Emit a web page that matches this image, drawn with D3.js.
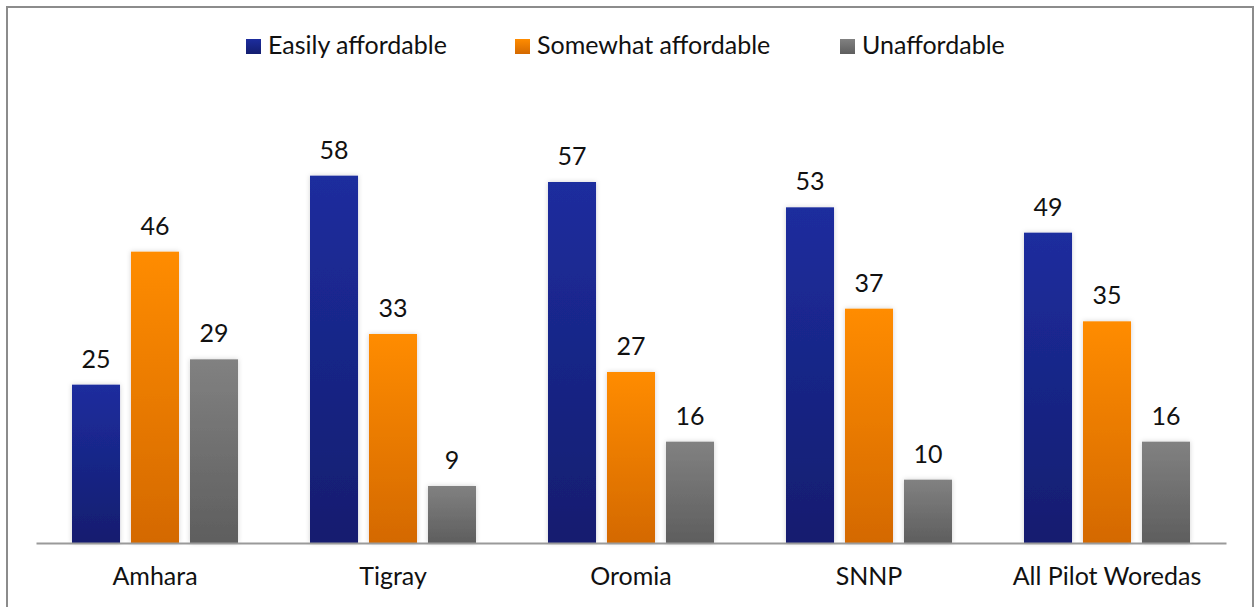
<!DOCTYPE html>
<html>
<head>
<meta charset="utf-8">
<script src="https://cdn.jsdelivr.net/npm/d3@7"></script>
<style>
  html, body { margin: 0; padding: 0; background: #fff; }
  svg text { font-family: Lato, "Open Sans", sans-serif; fill: #111; }
</style>
</head>
<body>
<div id="chart"></div>
<script>
const regions = ['Amhara', 'Tigray', 'Oromia', 'SNNP', 'All Pilot Woredas'];
const seriesNames = ['Easily affordable', 'Somewhat affordable', 'Unaffordable'];
const easily = [25, 58, 57, 53, 49];
const somewhat = [46, 33, 27, 37, 35];
const unaffordable = [29, 9, 16, 10, 16];

const W = 1255, H = 607;
const FS = 25;
const svg = d3.select('#chart').append('svg').attr('width', W).attr('height', H);

// gradients: lighter at top, darker at bottom
const defs = svg.append('defs');
const grads = [
  { id: 'g0', top: '#1d2d9e', bottom: '#131d6f' },
  { id: 'g1', top: '#ff8c00', bottom: '#d46900' },
  { id: 'g2', top: '#818181', bottom: '#5e5e5e' }
];
grads.forEach(g => {
  const lg = defs.append('linearGradient').attr('id', g.id)
    .attr('x1', 0).attr('y1', 0).attr('x2', 0).attr('y2', 1);
  lg.append('stop').attr('offset', '0%').attr('stop-color', g.top);
  lg.append('stop').attr('offset', '100%').attr('stop-color', g.bottom);
});
const f = defs.append('filter').attr('id', 'shadow')
  .attr('x', '-30%').attr('y', '-10%').attr('width', '160%').attr('height', '120%');
f.append('feDropShadow').attr('dx', 0).attr('dy', 0).attr('stdDeviation', 2.5)
  .attr('flood-color', '#000').attr('flood-opacity', 0.18);

// frame
svg.append('rect').attr('x', 7).attr('y', 7).attr('width', W - 9).attr('height', H)
  .attr('fill', 'none').attr('stroke', '#8c8c8c').attr('stroke-width', 2);

const left = 36, right = 1226, baseline = 543;
const x0 = d3.scaleBand().domain(regions).range([left, right]).paddingInner(0).paddingOuter(0);
const x1 = d3.scaleBand().domain([0, 1, 2]).range([0, 166]).paddingInner(0.186);
const y = d3.scaleLinear().domain([0, 60]).range([baseline, baseline - 380]);

const data = regions.map((r, i) => ({ region: r, values: [easily[i], somewhat[i], unaffordable[i]] }));

const groups = svg.append('g').selectAll('g').data(data).join('g')
  .attr('transform', d => `translate(${x0(d.region) + (x0.bandwidth() - 166) / 2},0)`);

groups.selectAll('rect').data(d => d.values).join('rect')
  .attr('x', (v, j) => x1(j))
  .attr('y', v => y(v))
  .attr('width', x1.bandwidth())
  .attr('height', v => baseline - y(v))
  .attr('fill', (v, j) => `url(#g${j})`)
  .attr('filter', 'url(#shadow)');

groups.selectAll('text').data(d => d.values).join('text')
  .attr('x', (v, j) => x1(j) + x1.bandwidth() / 2)
  .attr('y', v => y(v) - 17)
  .attr('text-anchor', 'middle')
  .attr('font-size', FS)
  .text(v => v);

// axis
const axis = svg.append('g').attr('transform', `translate(0,${baseline})`)
  .call(d3.axisBottom(x0).tickSize(0).tickPadding(24));
axis.select('.domain').attr('stroke', '#9a9a9a').attr('stroke-width', 2);
axis.selectAll('.tick text').attr('font-size', FS).attr('font-family', 'Lato, "Open Sans", sans-serif').attr('fill', '#111');

// legend
const legendX = [246, 515, 840];
const legend = svg.append('g').selectAll('g').data(seriesNames).join('g')
  .attr('transform', (d, i) => `translate(${legendX[i]},39)`);
legend.append('rect').attr('width', 15).attr('height', 15).attr('fill', (d, i) => `url(#g${i})`);
legend.append('text').attr('x', 22).attr('y', 15).attr('font-size', FS).text(d => d);
</script>
</body>
</html>
